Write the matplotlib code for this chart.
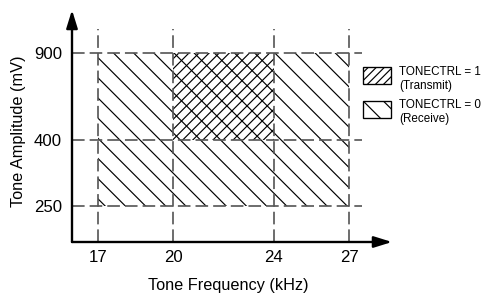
import matplotlib
matplotlib.use('Agg')
import matplotlib.pyplot as plt
from matplotlib.patches import Rectangle
import numpy as np

plt.rcParams['font.family'] = ['Liberation Sans', 'DejaVu Sans']
plt.rcParams['hatch.linewidth'] = 0.7

# Data
freq_ticks = [17, 20, 24, 27]          # kHz
amp_ticks = [250, 400, 900]            # mV
receive_freq = (17, 27)
receive_amp = (250, 900)
transmit_freq = (20, 24)
transmit_amp = (400, 900)

# schematic (non-linear) amplitude axis
knot_val = np.array([150, 250, 400, 900, 1120])
knot_pos = np.array([0, 36, 102, 189, 232])

def fwd(v):
    return np.interp(v, knot_val, knot_pos)

def inv(p):
    return np.interp(p, knot_pos, knot_val)

W, H, DPI = 484, 295, 121
fig = plt.figure(figsize=(W / DPI, H / DPI), dpi=DPI)
ax = fig.add_axes([72 / W, (H - 242) / H, 320 / W, 232 / H])
ax.set_yscale('function', functions=(fwd, inv))
ax.set_xlim(15.964, 28.71)
ax.set_ylim(150, 1120)

for s in ax.spines.values():
    s.set_visible(False)

# hatched regions
ax.add_patch(Rectangle((receive_freq[0], receive_amp[0]),
                       receive_freq[1] - receive_freq[0],
                       receive_amp[1] - receive_amp[0],
                       facecolor='none', edgecolor='black', lw=0, hatch='\\\\'))
ax.add_patch(Rectangle((transmit_freq[0], transmit_amp[0]),
                       transmit_freq[1] - transmit_freq[0],
                       transmit_amp[1] - transmit_amp[0],
                       facecolor='none', edgecolor='black', lw=0, hatch='////'))

# dashed guide lines
dash = dict(color='#555555', lw=1.0, dashes=(7.5, 3))
for f in freq_ticks:
    ax.plot([f, f], [150, 1023], **dash)
for a in amp_ticks:
    ax.plot([15.964, 27.5], [a, a], **dash)

# axes arrows
arw = dict(arrowstyle='-|>,head_length=0.9,head_width=0.28', lw=1.4,
           color='black', shrinkA=0, shrinkB=0)
ax.annotate('', xy=(1, 0), xytext=(0, 0), xycoords='axes fraction', arrowprops=arw)
ax.annotate('', xy=(0, 1), xytext=(0, 0), xycoords='axes fraction', arrowprops=arw)

ax.set_xticks(freq_ticks)
ax.set_xticklabels([str(f) for f in freq_ticks])
ax.set_yticks(amp_ticks)
ax.set_yticklabels([str(a) for a in amp_ticks])
ax.yaxis.set_minor_locator(matplotlib.ticker.NullLocator())
ax.tick_params(axis='x', length=0, pad=4.5, labelsize=10)
ax.tick_params(axis='y', length=0, pad=6, labelsize=10)

ax.set_xlabel('Tone Frequency (kHz)', fontsize=9.7)
ax.xaxis.set_label_coords(0.4875, -0.155)
ax.set_ylabel('Tone Amplitude (mV)', fontsize=9.7)
ax.yaxis.set_label_coords((19 - 72) / 320, (242 - 131) / 232)
ax.yaxis.label.set_va('center')

# legend
def box(x0, y0, hatch):
    fig.add_artist(Rectangle((x0 / W, (H - y0 - 17) / H), 28 / W, 17 / H,
                             transform=fig.transFigure, facecolor='white',
                             edgecolor='black', lw=0.8, hatch=hatch))

box(363, 67, '/////')
box(363, 101, '\\\\')
fig.text(399 / W, (H - 66) / H, 'TONECTRL = 1\n(Transmit)', fontsize=6.9,
         va='top', ha='left', linespacing=1.2)
fig.text(399 / W, (H - 99) / H, 'TONECTRL = 0\n(Receive)', fontsize=6.9,
         va='top', ha='left', linespacing=1.2)

fig.savefig('out.png', dpi=DPI)
